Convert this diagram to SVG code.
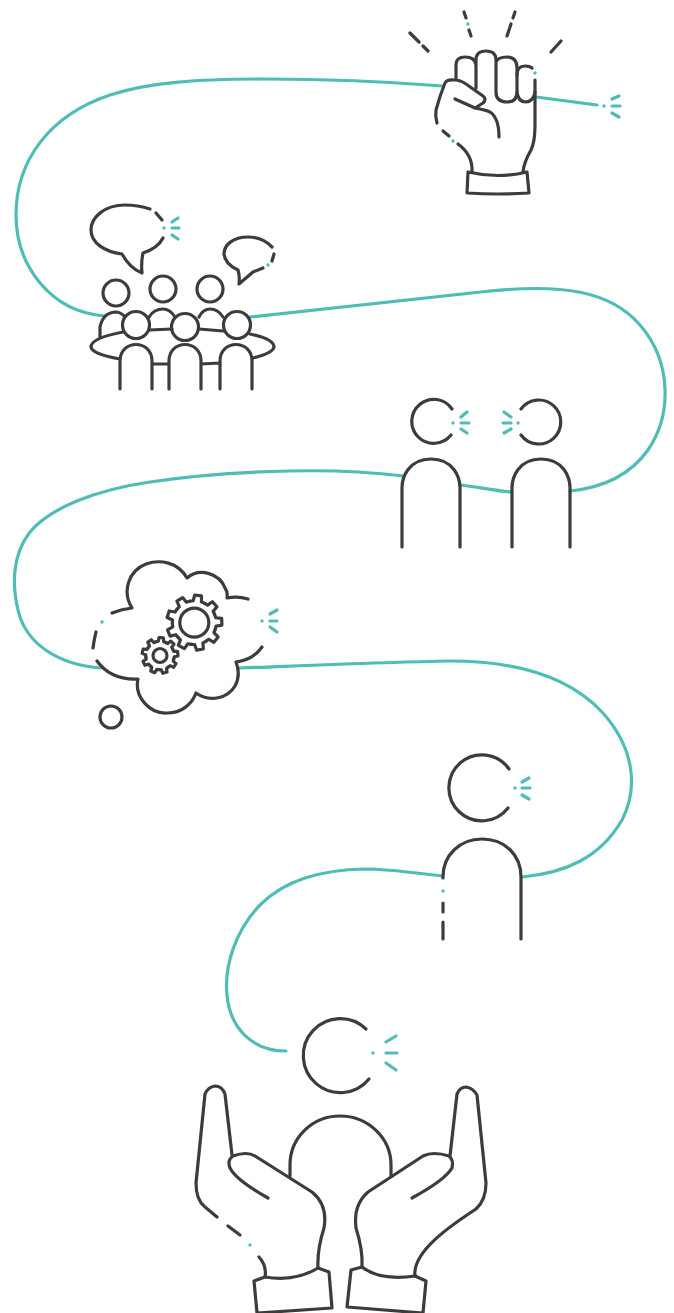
<svg xmlns="http://www.w3.org/2000/svg" xmlns:xlink="http://www.w3.org/1999/xlink" width="674" height="1313" viewBox="0 0 674 1313">
<style>
.d{fill:none;stroke:#3c3c3c;stroke-width:3.2;stroke-linecap:round;stroke-linejoin:round}
.t{fill:none;stroke:#4fbcb5;stroke-width:3.2;stroke-linecap:round;stroke-linejoin:round}
.dot{fill:#4fbcb5}
</style>
<defs>
<g id="tooth"><path d="M-7.5-20.6L-4.2-21.6L-3.4-27.5L3.4-27.5L4.2-21.6L7.5-20.6"/></g>
<g id="gear"><use xlink:href="#tooth" href="#tooth"/><use xlink:href="#tooth" href="#tooth" transform="rotate(40)"/><use xlink:href="#tooth" href="#tooth" transform="rotate(80)"/><use xlink:href="#tooth" href="#tooth" transform="rotate(120)"/><use xlink:href="#tooth" href="#tooth" transform="rotate(160)"/><use xlink:href="#tooth" href="#tooth" transform="rotate(200)"/><use xlink:href="#tooth" href="#tooth" transform="rotate(240)"/><use xlink:href="#tooth" href="#tooth" transform="rotate(280)"/><use xlink:href="#tooth" href="#tooth" transform="rotate(320)"/></g>
</defs>
<rect width="674" height="1313" fill="#fff"/>
<g id="connectors" class="t">
<path d="M597 105L536 97"/>
<path d="M443 86C380 81 310 79 265 79C200 79 150 82 110 95C50 115 16 160 16 215C16 265 50 312 105 316"/>
<path d="M250 317C340 307 430 297 490 291C560 284 610 290 640 325C672 362 672 415 648 450C628 478 600 488 570 491"/>
<path d="M512 492C495 491 478 487 460 485"/>
<path d="M404 476C370 472 330 470 290 471C240 472 190 476 150 482C95 490 50 508 30 532C12 555 12 585 18 610C26 645 60 665 101 668"/>
<path d="M240 668C320 665 390 662 450 661C520 661 570 678 602 712C632 745 640 785 622 820C600 858 565 873 522 877"/>
<path d="M442 876C415 873 390 869 365 869C320 870 285 880 260 905C236 930 224 965 227 995C230 1028 252 1051 286 1051"/>
</g>
<g id="fist">
<path class="d" d="M456 78V65Q456 57 465 57Q475 57 476 65M476 88V60Q476 51 486 51Q496 51 496 60V92Q496 102 507 102Q517 102 517 92V68Q517 57 507 57Q498 57 496 62"/>
<path class="d" d="M517 75Q517 66 525 66Q530 66 532 68M517 92Q518 102 526 102Q534 101 535 92"/>
<path class="d" d="M535 80V125Q535 142 531 150Q524 162 523 172"/>
<path class="d" d="M437 123Q435 116 436 110Q440 95 445 83Q447 79 455 80Q460 80 466 84L483 96Q487 99 483 103L475 108L455 99"/>
<path class="d" d="M475 108Q486 110 490 112Q499 118 499 137"/>
<path class="d" d="M443 131L449 136M458 144Q473 155 472 172"/>
<path class="d" d="M468 172L467 193Q498 195 529 193L527 172Q498 179 468 172"/>
<path class="d" d="M410 33L419 42M423 46L428 51M464 12L466 18M469 30L471 36M515 12L513 18M511 24L507 36M561 41L551 52"/>
<circle class="dot" cx="468" cy="24" r="1.7"/><circle class="dot" cx="453" cy="141" r="1.7"/><circle class="dot" cx="535" cy="73" r="1.7"/>
<path class="t" d="M612 106H620M612 99L619 96M612 113L619 117"/><circle class="dot" cx="604" cy="106" r="1.7"/>
</g>
<g id="crowd">
<path class="d" d="M150 209Q138 205 125 205C105 205 91 217 91 230C91 243 105 252 122 254C127 263 134 270 142 273Q141 262 143 253Q158 248 163 238M156 213L162 220"/>
<path class="d" d="M272 247Q262 237 248 237C233 237 224 245 224 254Q225 264 238 270Q240 277 239 284L253 272L263 268M274 254L272 261"/>
<circle class="d" cx="116" cy="293" r="13"/><circle class="d" cx="163" cy="289" r="13"/><circle class="d" cx="210" cy="289" r="13"/>
<circle class="d" cx="136" cy="325" r="13.5"/><circle class="d" cx="185" cy="327" r="13.5"/><circle class="d" cx="237" cy="325" r="13.5"/>
<path class="d" d="M100 337V327Q103 313 115 312Q121 312 125 317M149 317Q154 309 163 309Q170 309 175 317M199 317Q203 309 210 309Q218 309 223 317"/>
<path class="d" d="M123 332Q91 338 91 347Q92 354 120 359M149 330L172 329M199 329L223 331M250 334Q274 339 274 347Q273 353 253 358"/>
<path class="d" d="M120 389V361C120 339 152 339 152 361V389M169 389V361C169 339 201 339 201 361V389M220 389V361C220 339 252 339 252 361V389M152 364H169M201 364L220 363"/>
<path class="t" d="M172 228H179M172 222L178 218M172 235L178 239"/><circle class="dot" cx="164" cy="228" r="1.7"/><circle class="dot" cx="268" cy="265" r="1.7"/>
</g>
<g id="pair">
<path class="d" d="M452 409A22 22 0 1 0 451 435M521 409A22 22 0 1 1 521 435"/>
<path class="d" d="M402 547V488C402 478 408 459 431 459C454 459 460 478 460 488V547M512 547V488C512 478 518 459 541 459C564 459 570 478 570 488V547"/>
<path class="t" d="M461 423H469M461 417L467 412M461 429L467 433M503 423H511M504 412L511 417M504 433L511 429"/>
<circle class="dot" cx="453" cy="423" r="1.7"/><circle class="dot" cx="518" cy="423" r="1.7"/>
</g>
<g id="thought">
<path class="d" d="M248 599Q238 596 227 598Q228 592 225 588C220 574 200 567 187 578C178 562 160 559 146 564C128 571 122 592 132 608Q122 609 112 613M96 632Q94 640 93 648M97 661C105 672 118 680 138 679C134 697 150 714 167 713C182 713 192 704 196 693C210 703 228 698 235 686Q241 675 236 662Q253 660 262 647"/>
<circle class="d" cx="111" cy="717" r="11"/>
<use href="#gear" xlink:href="#gear" class="d" transform="translate(194.3 622.7) rotate(8)"/>
<circle class="d" cx="194.3" cy="622.7" r="14.5"/>
<use href="#gear" xlink:href="#gear" class="d" style="stroke-width:4.9" transform="translate(160 655.5) rotate(4) scale(.65)"/>
<circle class="d" cx="160" cy="655.5" r="7"/>
<circle class="dot" cx="102" cy="622" r="1.7"/><circle class="dot" cx="262" cy="621" r="1.7"/>
<path class="t" d="M270 621H277M270 614L277 610M270 627L277 632"/>
</g>
<g id="person">
<path class="d" d="M509 769A33 33 0 1 0 508 808"/>
<path class="d" d="M443 878V877C443 855 460 839 482 839C505 839 521 855 521 877V939M443 903V912M443 922V939"/>
<circle class="dot" cx="443" cy="891" r="1.7"/><circle class="dot" cx="515" cy="788" r="1.7"/>
<path class="t" d="M522 788H530M522 782L529 778M522 795L529 799"/>
</g>
<g id="hands">
<path class="d" d="M366 1029A37 37 0 1 0 369 1079"/>
<path class="d" d="M290 1176V1165C290 1138 312 1116 340 1116C368 1116 391 1138 391 1165V1175"/>
<path class="d" d="M232 1155L225 1094Q222 1086 215 1086Q208 1087 205 1094L196 1183Q196 1200 205 1207L217 1217M228 1226L240 1235M259 1257Q267 1266 265 1277"/>
<path class="d" d="M254 1281L265 1277Q295 1282 318 1268L329 1272L332 1308L257 1313Z"/>
<path class="d" d="M268 1198Q236 1180 230 1168Q227 1160 233 1156Q247 1151 255 1156L312 1192Q328 1205 324 1228Q317 1250 318 1268"/>
<path class="d" d="M450 1156L457 1094Q460 1087 466 1087Q473 1088 477 1095L486 1183Q486 1200 476 1209C450 1226 412 1252 415 1276"/>
<path class="d" d="M351 1270L362 1267Q380 1281 415 1276L426 1281L423 1313L347 1307Z"/>
<path class="d" d="M412 1198Q445 1180 452 1168Q454 1160 449 1156Q433 1151 423 1156L368 1192Q353 1205 356 1228Q363 1250 362 1267"/>
<circle class="dot" cx="373" cy="1053" r="1.7"/><circle class="dot" cx="250" cy="1245" r="1.7"/>
<path class="t" d="M386 1053H397M386 1042L396 1036M386 1063L396 1070"/>
</g>
</svg>
